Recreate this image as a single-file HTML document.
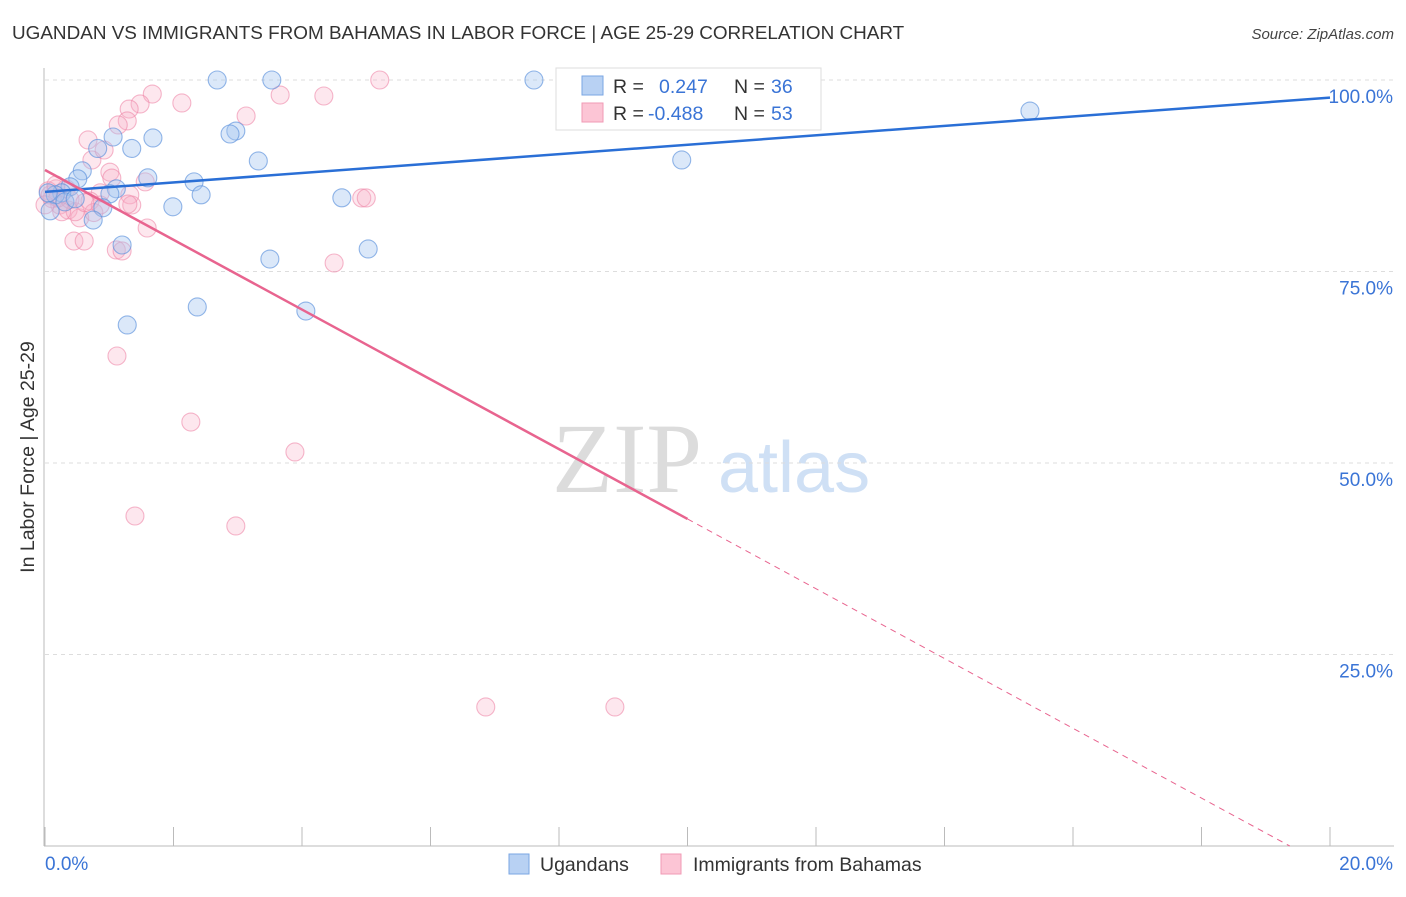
<!DOCTYPE html>
<html><head><meta charset="utf-8"><style>
body{margin:0;background:#fff;font-family:"Liberation Sans",sans-serif}
</style></head><body>
<svg id="chart" width="1406" height="892" xmlns="http://www.w3.org/2000/svg" style="font-family:'Liberation Sans',sans-serif">
<text x="12" y="39" font-size="18.9" fill="#333">UGANDAN VS IMMIGRANTS FROM BAHAMAS IN LABOR FORCE | AGE 25-29 CORRELATION CHART</text>
<text x="1394" y="39" font-size="15" fill="#444" font-style="italic" text-anchor="end">Source: ZipAtlas.com</text>
<g>
<text x="552" y="492" font-size="100" fill="#dcdcdc" style="font-family:'Liberation Serif',serif">ZIP</text>
<text x="718" y="492" font-size="72" fill="#cfe0f5">atlas</text>
</g>
<g id="grid"></g>
<g id="axes"></g>
<g id="points"></g>
<g id="trends"></g>
<text transform="translate(34,457) rotate(-90)" font-size="19.5" fill="#333" text-anchor="middle">In Labor Force | Age 25-29</text>
<g>
<rect x="556" y="68" width="265" height="62" fill="#fff" stroke="#ddd"/>
<rect x="582" y="76" width="21" height="19" fill="#b8d1f3" stroke="#7aa6e3"/>
<rect x="582" y="103" width="21" height="19" fill="#fcc5d5" stroke="#f09ab5"/>
<text x="613" y="93" font-size="19.5" fill="#333">R =</text>
<text x="659" y="93" font-size="19.5" fill="#3a74d6">0.247</text>
<text x="734" y="93" font-size="19.5" fill="#333">N =</text>
<text x="771" y="93" font-size="19.5" fill="#3a74d6">36</text>
<text x="613" y="120" font-size="19.5" fill="#333">R =</text>
<text x="648" y="120" font-size="19.5" fill="#3a74d6">-0.488</text>
<text x="734" y="120" font-size="19.5" fill="#333">N =</text>
<text x="771" y="120" font-size="19.5" fill="#3a74d6">53</text>
</g>
<g>
<rect x="509" y="854" width="20" height="20" fill="#b8d1f3" stroke="#7aa6e3"/>
<text x="540" y="871" font-size="19.5" fill="#333">Ugandans</text>
<rect x="661" y="854" width="20" height="20" fill="#fcc5d5" stroke="#f09ab5"/>
<text x="693" y="871" font-size="19.5" fill="#333">Immigrants from Bahamas</text>
</g>
</svg>
<script>
const xTickLabels=["0.0%","20.0%"];
const yTicks=[25,50,75,100];
const yTickLabels=["25.0%","50.0%","75.0%","100.0%"];
const blueX=[2.68,3.53,7.61,15.33,1.06,1.68,2.97,2.88,0.82,1.35,3.32,9.91,0.58,1.60,2.32,0.51,0.39,1.11,1.01,2.43,4.62,0.26,0.16,0.05,0.08,1.99,0.90,0.75,1.20,3.50,5.03,2.37,4.06,1.28,0.31,0.47];
const blueY=[100,100,100,95.95,92.56,92.43,93.34,92.95,91.06,91.06,89.43,89.56,88.14,87.23,86.70,87.10,86.06,85.80,85.14,85.01,84.62,85.27,85.01,85.27,82.92,83.45,83.32,81.72,78.46,76.63,77.94,70.37,69.84,68.02,84.09,84.49];
const pinkX=[5.21,1.67,2.13,3.66,4.34,1.48,1.31,1.28,1.14,3.13,0.67,0.73,0.92,1.01,1.56,0.86,1.32,0.70,1.35,4.93,5.00,0.17,0.05,0.11,0.23,0.36,0.54,0.76,0.47,1.59,0.45,0.61,1.11,1.20,4.50,1.12,2.27,3.89,1.40,2.97,6.86,8.87,0.08,0.20,0.0,0.33,0.86,1.04,1.29,0.39,0.26,0.17,0.62];
const pinkY=[100,98.17,97.0,98.04,97.91,96.87,96.21,94.65,94.13,95.30,92.17,89.56,90.86,87.97,86.70,85.27,85.01,84.20,83.68,84.60,84.60,85.80,85.54,84.49,83.68,83.03,82.0,82.70,82.80,80.68,78.98,78.98,77.81,77.68,76.11,63.97,55.35,51.44,43.08,41.78,18.15,18.15,84.99,84.60,83.7,85.80,83.68,87.2,83.8,84.4,82.8,86.3,84.0];
const blueTrend=[85.4,97.7];
const pinkTrend=[88.25,-4.555];
const NS="http://www.w3.org/2000/svg";
const X=v=>45+v*64.25, Y=v=>846-v*7.66;
function mk(t,a,p){const e=document.createElementNS(NS,t);for(const k in a)e.setAttribute(k,a[k]);p.appendChild(e);return e;}
const grid=document.getElementById('grid'),axes=document.getElementById('axes');
yTicks.forEach((t,i)=>{
 const l=mk('line',{x1:45,x2:1394,y1:Y(t),y2:Y(t),stroke:'#ddd','stroke-dasharray':'4,4'},grid);
 
 
 const tx=mk('text',{x:1393,y:Y(t)+23,'font-size':19,fill:'#3a74d6','text-anchor':'end'},axes);
 tx.textContent=yTickLabels[i];
 
 
});
const ax=mk('line',{x1:44,x2:44,y1:68,y2:846,stroke:'#bbb'},axes);


const bx=mk('line',{x1:44,x2:1394,y1:846,y2:846,stroke:'#bbb'},axes);


for(let i=0;i<=10;i++){
 const tk=mk('line',{x1:X(i*2),x2:X(i*2),y1:827,y2:846,stroke:'#bbb'},axes);
 
 
}
[[0,45,'start'],[20,1393,'end']].forEach((d,i)=>{
 const t=mk('text',{x:d[1],y:870,'font-size':19,fill:'#3a74d6','text-anchor':d[2]},axes);
 t.textContent=xTickLabels[i];
 
 
});
const pts=document.getElementById('points');
pinkX.forEach((v,i)=>{
 const c=mk('circle',{cx:X(v),cy:Y(pinkY[i]),r:9,fill:'rgba(248,175,198,0.3)',stroke:'rgba(238,135,168,0.6)','stroke-width':1.1},pts);
 
 
});
blueX.forEach((v,i)=>{
 const c=mk('circle',{cx:X(v),cy:Y(blueY[i]),r:9,fill:'rgba(165,198,240,0.4)',stroke:'rgba(90,145,220,0.65)','stroke-width':1.1},pts);
 
 
});
const tr=document.getElementById('trends');
const bl=mk('line',{x1:X(0),y1:Y(blueTrend[0]),x2:X(20),y2:Y(blueTrend[1]),stroke:'#2a6fd6','stroke-width':2.5},tr);


const pe=-pinkTrend[0]/pinkTrend[1];
const pl=mk('line',{x1:X(0),y1:Y(pinkTrend[0]),x2:X(10),y2:Y(pinkTrend[0]+10*pinkTrend[1]),stroke:'#e8648f','stroke-width':2.5},tr);


const pd=mk('line',{x1:X(10),y1:Y(pinkTrend[0]+10*pinkTrend[1]),x2:X(pe),y2:Y(0),stroke:'#e8648f','stroke-width':1,'stroke-dasharray':'6,5'},tr);


</script>
</body></html>
